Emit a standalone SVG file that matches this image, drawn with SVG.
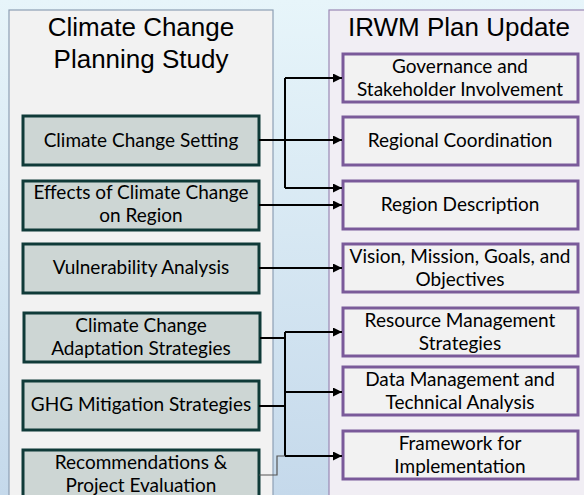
<svg xmlns="http://www.w3.org/2000/svg" width="584" height="495" viewBox="0 0 584 495">
<defs>
<linearGradient id="bg" x1="0" y1="0" x2="0" y2="1">
<stop offset="0" stop-color="#e7f5fa"/>
<stop offset="1" stop-color="#c5d9eb"/>
</linearGradient>
<marker id="ah" viewBox="0 0 10 10" refX="10" refY="5" markerWidth="10" markerHeight="9" markerUnits="userSpaceOnUse" orient="auto">
<path d="M0,0 L10,5 L0,10 Z" fill="#000"/>
</marker>
<style>
.title{font-family:"Liberation Sans",Arial,sans-serif;font-size:26px;fill:#000;text-anchor:middle}
.lb{fill:#cdd6d4;stroke:#0f3a38;stroke-width:3}
.rb{fill:#f2f2f2;stroke:#7a5a9a;stroke-width:3}
.t{font-family:Lato,"Open Sans",sans-serif;font-size:19px;fill:#000;text-anchor:middle}
.c{fill:none;stroke:#000;stroke-width:2}
.thin{fill:none;stroke:#555;stroke-width:1.2}
</style>
</defs>
<rect x="0" y="0" width="584" height="495" fill="url(#bg)"/>
<g id="panel-left">
<rect x="9" y="10" width="264" height="500" fill="#f2f2f2" stroke="#8d9fb4" stroke-width="1.2"/>
<text class="title" x="141" y="36">Climate Change</text>
<text class="title" x="141" y="68">Planning Study</text>
</g>
<g id="panel-right">
<rect x="329" y="10" width="270" height="500" fill="#f1eef4" stroke="#9a88b4" stroke-width="1.2"/>
<text class="title" x="459" y="36">IRWM Plan Update</text>
</g>
<g id="n-setting"><rect class="lb" x="23" y="116" width="236" height="49"/><text class="t" x="141" y="147">Climate Change Setting</text></g>
<g id="n-effects"><rect class="lb" x="23" y="181" width="236" height="49"/><text class="t" x="141" y="199">Effects of Climate Change</text><text class="t" x="141" y="222">on Region</text></g>
<g id="n-vuln"><rect class="lb" x="23" y="244" width="236" height="49"/><text class="t" x="141" y="274">Vulnerability Analysis</text></g>
<g id="n-adapt"><rect class="lb" x="24" y="313" width="236" height="49"/><text class="t" x="141" y="332">Climate Change</text><text class="t" x="141" y="355">Adaptation Strategies</text></g>
<g id="n-ghg"><rect class="lb" x="23" y="381" width="236" height="49"/><text class="t" x="141" y="411">GHG Mitigation Strategies</text></g>
<g id="n-rec"><rect class="lb" x="23" y="450" width="236" height="60"/><text class="t" x="141" y="469">Recommendations &amp;</text><text class="t" x="141" y="492">Project Evaluation</text></g>
<g id="n-gov"><rect class="rb" x="343" y="54" width="235" height="48"/><text class="t" x="460" y="73">Governance and</text><text class="t" x="460" y="96">Stakeholder Involvement</text></g>
<g id="n-coord"><rect class="rb" x="343" y="117" width="235" height="48"/><text class="t" x="460" y="147">Regional Coordination</text></g>
<g id="n-desc"><rect class="rb" x="343" y="181" width="235" height="48"/><text class="t" x="460" y="211">Region Description</text></g>
<g id="n-vision"><rect class="rb" x="343" y="244" width="235" height="48"/><text class="t" x="460" y="263">Vision, Mission, Goals, and</text><text class="t" x="460" y="286">Objectives</text></g>
<g id="n-resource"><rect class="rb" x="343" y="308" width="235" height="48"/><text class="t" x="460" y="327">Resource Management</text><text class="t" x="460" y="350">Strategies</text></g>
<g id="n-data"><rect class="rb" x="343" y="367" width="235" height="48"/><text class="t" x="460" y="386">Data Management and</text><text class="t" x="460" y="409">Technical Analysis</text></g>
<g id="n-frame"><rect class="rb" x="343" y="431" width="235" height="48"/><text class="t" x="460" y="450">Framework for</text><text class="t" x="460" y="473">Implementation</text></g>
<g id="connectors">
<path class="c" d="M285,78 V188"/>
<path class="c" d="M285,78 H342" marker-end="url(#ah)"/>
<path class="c" d="M259,140 H342" marker-end="url(#ah)"/>
<path class="c" d="M285,188 H342" marker-end="url(#ah)"/>
<path class="c" d="M259,205 H342" marker-end="url(#ah)"/>
<path class="c" d="M259,268 H342" marker-end="url(#ah)"/>
<path class="c" d="M260,338 H285"/>
<path class="c" d="M285,332 V456"/>
<path class="c" d="M259,406 H285"/>
<path class="c" d="M285,332 H342" marker-end="url(#ah)"/>
<path class="c" d="M285,392 H342" marker-end="url(#ah)"/>
<path class="c" d="M285,456 H342" marker-end="url(#ah)"/>
<path class="thin" d="M259,475 H277 V456 H285"/>
</g>
</svg>
